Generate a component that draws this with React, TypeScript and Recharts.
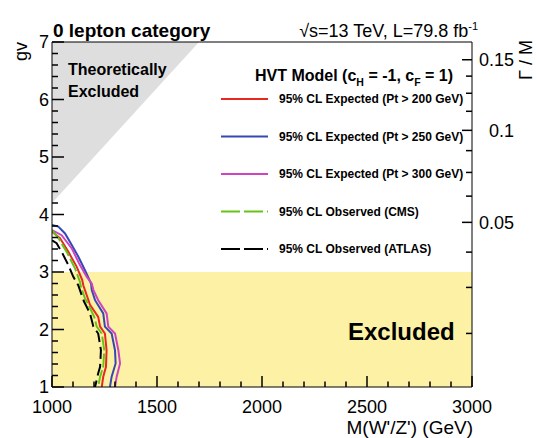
import { ComposedChart, Line, Area, XAxis, YAxis, ReferenceArea, ReferenceLine } from 'recharts'

// HVT limits in the (M, gv) plane, 0 lepton category.
// Each contour: mass (GeV) and coupling gv from top to bottom.

const EXP200_M = [1000, 1038, 1078, 1118, 1144, 1149, 1165, 1181, 1220, 1229, 1252, 1260, 1257, 1244, 1237]
const EXP200_GV = [3.7, 3.59, 3.35, 3.09, 2.86, 2.77, 2.6, 2.43, 2.22, 2.05, 1.93, 1.64, 1.35, 1.18, 1.0]

const EXP250_M = [1000, 1030, 1062, 1094, 1125, 1157, 1186, 1189, 1205, 1244, 1252, 1284, 1300, 1303, 1284, 1276]
const EXP250_GV = [3.82, 3.79, 3.67, 3.47, 3.27, 3.03, 2.8, 2.69, 2.51, 2.28, 2.05, 1.93, 1.64, 1.41, 1.18, 1.0]

const EXP300_M = [1000, 1046, 1094, 1133, 1165, 1189, 1197, 1220, 1260, 1268, 1300, 1316, 1324, 1308, 1300]
const EXP300_GV = [3.73, 3.64, 3.41, 3.12, 2.92, 2.8, 2.69, 2.51, 2.28, 2.05, 1.93, 1.64, 1.41, 1.18, 1.0]

const OBS_CMS_M = [1000, 1030, 1070, 1110, 1133, 1138, 1157, 1170, 1201, 1213, 1237, 1249, 1244, 1229, 1220]
const OBS_CMS_GV = [3.73, 3.59, 3.35, 3.06, 2.83, 2.74, 2.54, 2.46, 2.22, 2.05, 1.93, 1.64, 1.35, 1.18, 1.0]

const OBS_ATLAS_M = [1000, 1022, 1046, 1078, 1101, 1125, 1141, 1152, 1181, 1197, 1220, 1233, 1229, 1220, 1205]
const OBS_ATLAS_GV = [3.55, 3.5, 3.35, 3.12, 2.92, 2.77, 2.6, 2.49, 2.28, 2.05, 1.93, 1.64, 1.35, 1.24, 1.0]

// theoretically excluded wedge (upper left) and the experimentally excluded band
const THEORY_M = [1000, 1700]
const THEORY_GV = [4.2, 7]
const EXCLUDED_GV = [1, 3]

const X_MAJOR = [1000, 1500, 2000, 2500, 3000]
const Y_MAJOR = [1, 2, 3, 4, 5, 6, 7]
const WIDTH_LABELS = [0.05, 0.1, 0.15] // Γ/M labels on the right axis
const WIDTH_K = 0.00335 // Γ/M ≈ k·gv²

const X_TICKS = Array.from({ length: 21 }, (_, i) => 1000 + i * 100)
const Y_TICKS = Array.from({ length: 31 }, (_, i) => +(1 + i * 0.2).toFixed(1))
const W_TICKS = Array.from({ length: 12 }, (_, i) => +((i + 1) * 0.0125).toFixed(4))

const zip = (m: number[], gv: number[]) => m.map((v, i) => ({ m: v, gv: gv[i] }))

const SERIES = [
  { name: '95% CL Expected (Pt > 200 GeV)', data: zip(EXP200_M, EXP200_GV), color: '#e8281f', dash: undefined },
  { name: '95% CL Expected (Pt > 250 GeV)', data: zip(EXP250_M, EXP250_GV), color: '#3548b4', dash: undefined },
  { name: '95% CL Expected (Pt > 300 GeV)', data: zip(EXP300_M, EXP300_GV), color: '#cc44c0', dash: undefined },
  { name: '95% CL Observed (CMS)', data: zip(OBS_CMS_M, OBS_CMS_GV), color: '#66c418', dash: '14 3' },
  { name: '95% CL Observed (ATLAS)', data: zip(OBS_ATLAS_M, OBS_ATLAS_GV), color: '#000000', dash: '12 5' },
]

const FONT = '"Liberation Sans", Arial, Helvetica, sans-serif'
const W = 537
const H = 438
const MARGIN = { top: 42, right: 0, bottom: 0, left: 0 }
const TICK_W = 1.5
const isMajor = (v: number, list: number[]) => list.some((m) => Math.abs(m - v) < 1e-6)

// ROOT style: ticks point into the frame, long ones on labelled values.
// tickSize=0 so the tick's x/y is the axis line itself.
function LeftTick(p: any) {
  const v = p.payload.value
  const major = isMajor(v, Y_MAJOR)
  const x = Number(p.x)
  const y = Number(p.y)
  return (
    <g>
      <line x1={x} x2={x + (major ? 12 : 6)} y1={y} y2={y} stroke="#000" strokeWidth={TICK_W} />
      {major && (
        <text x={x - 3} y={y} dy="0.36em" textAnchor="end" fontSize={18} fontFamily={FONT} fill="#000">
          {v}
        </text>
      )}
    </g>
  )
}

function BottomTick(p: any) {
  const v = p.payload.value
  const major = isMajor(v, X_MAJOR)
  const x = Number(p.x)
  const y = Number(p.y)
  return (
    <g>
      <line x1={x} x2={x} y1={y} y2={y - (major ? 11 : 5.5)} stroke="#000" strokeWidth={TICK_W} />
      {major && (
        <text x={x} y={y + 26} textAnchor="middle" fontSize={18} fontFamily={FONT} fill="#000">
          {v}
        </text>
      )}
    </g>
  )
}

function RightTick(p: any) {
  const v = p.payload.value
  const major = isMajor(v, WIDTH_LABELS)
  const x = Number(p.x)
  const y = Number(p.y)
  return (
    <g>
      <line x1={x} x2={x - (major ? 10 : 6)} y1={y} y2={y} stroke="#000" strokeWidth={TICK_W} />
      {major && (
        <text x={514} y={y} dy="0.36em" textAnchor="end" fontSize={18} fontFamily={FONT} fill="#000">
          {v}
        </text>
      )}
    </g>
  )
}

// same frame for both layers so the plot areas line up exactly
function Axes({ visible }: { visible: boolean }) {
  return [
    <XAxis
      key="x"
      type="number"
      dataKey="m"
      domain={[1000, 3000]}
      ticks={X_TICKS}
      interval={0}
      allowDataOverflow
      height={51}
      tickSize={0}
      tickMargin={0}
      axisLine={visible ? { stroke: '#000' } : false}
      tick={visible ? <BottomTick /> : false}
    />,
    <YAxis
      key="gv"
      yAxisId="gv"
      type="number"
      domain={[1, 7]}
      ticks={Y_TICKS}
      interval={0}
      allowDataOverflow
      width={52}
      tickSize={0}
      tickMargin={0}
      axisLine={visible ? { stroke: '#000' } : false}
      tick={visible ? <LeftTick /> : false}
    />,
    <YAxis
      key="w"
      yAxisId="width"
      orientation="right"
      type="number"
      scale="sqrt"
      domain={[WIDTH_K, 49 * WIDTH_K]}
      ticks={W_TICKS}
      interval={0}
      allowDataOverflow
      width={65}
      tickSize={0}
      tickMargin={0}
      axisLine={visible ? { stroke: '#000' } : false}
      tick={visible ? <RightTick /> : false}
    />,
  ]
}

const LEGEND_Y = [99, 136.5, 174, 211.5, 249]

export default function App() {
  return (
    <div style={{ position: 'absolute', left: 0, top: 0, width: W, height: H, background: '#fff', overflow: 'hidden' }}>
      {/* bottom layer: excluded regions */}
      <div style={{ position: 'absolute', left: 0, top: 0 }}>
        <ComposedChart width={W} height={H} margin={MARGIN}>
          {Axes({ visible: false })}
          <ReferenceArea
            yAxisId="gv"
            x1={1000}
            x2={3000}
            y1={EXCLUDED_GV[0]}
            y2={EXCLUDED_GV[1]}
            fill="#fdf1a6"
            fillOpacity={1}
            stroke="none"
          />
          <Area
            yAxisId="gv"
            data={zip(THEORY_M, THEORY_GV)}
            dataKey="gv"
            type="linear"
            baseValue={7}
            stroke="none"
            fill="#dedede"
            fillOpacity={1}
            isAnimationActive={false}
            dot={false}
            activeDot={false}
          />
        </ComposedChart>
      </div>

      {/* annotations sit between the fills and the frame */}
      <svg
        width={W}
        height={H}
        style={{ position: 'absolute', left: 0, top: 0, pointerEvents: 'none' }}
        fontFamily={FONT}
      >
        <text x={53} y={37} fontSize={19} fontWeight="bold">0 lepton category</text>
        <text x={478} y={37} fontSize={18} textAnchor="end">
          √s=13 TeV, L=79.8 fb<tspan dy={-7} fontSize={11}>-1</tspan>
        </text>
        <text x={27} y={42} fontSize={18} textAnchor="end" transform="rotate(-90 27 42)">gv</text>
        <text x={532} y={40} fontSize={18} textAnchor="end" transform="rotate(-90 532 40)">Γ / M</text>
        <text x={473} y={434} fontSize={19} textAnchor="end">M(W'/Z') (GeV)</text>

        <text x={68} y={75} fontSize={16} fontWeight="bold">Theoretically</text>
        <text x={68} y={97} fontSize={16} fontWeight="bold">Excluded</text>
        <text x={348} y={340} fontSize={24} fontWeight="bold">Excluded</text>

        <text x={255} y={81} fontSize={16} fontWeight="bold">
          HVT Model (c<tspan dy={5} fontSize={10.5}>H</tspan>
          <tspan dy={-5}> = -1, c</tspan>
          <tspan dy={5} fontSize={10.5}>F</tspan>
          <tspan dy={-5}> = 1)</tspan>
        </text>
        {SERIES.map((s, i) => (
          <g key={s.name}>
            <line
              x1={221}
              x2={268}
              y1={LEGEND_Y[i]}
              y2={LEGEND_Y[i]}
              stroke={s.color}
              strokeWidth={2}
              strokeDasharray={s.dash ? '19 4' : undefined}
            />
            <text x={279} y={LEGEND_Y[i]} dy="0.36em" fontSize={12} fontWeight="bold">
              {s.name}
            </text>
          </g>
        ))}
      </svg>

      {/* top layer: limit contours and the frame with its ticks */}
      <div style={{ position: 'absolute', left: 0, top: 0 }}>
        <ComposedChart width={W} height={H} margin={MARGIN}>
          {Axes({ visible: true })}
          {SERIES.map((s) => (
            <Line
              key={s.name}
              yAxisId="gv"
              data={s.data}
              dataKey="gv"
              name={s.name}
              type="linear"
              stroke={s.color}
              strokeWidth={2}
              strokeDasharray={s.dash}
              dot={false}
              activeDot={false}
              isAnimationActive={false}
            />
          ))}
          <ReferenceLine yAxisId="gv" y={7} stroke="#000" />
        </ComposedChart>
      </div>
    </div>
  )
}
